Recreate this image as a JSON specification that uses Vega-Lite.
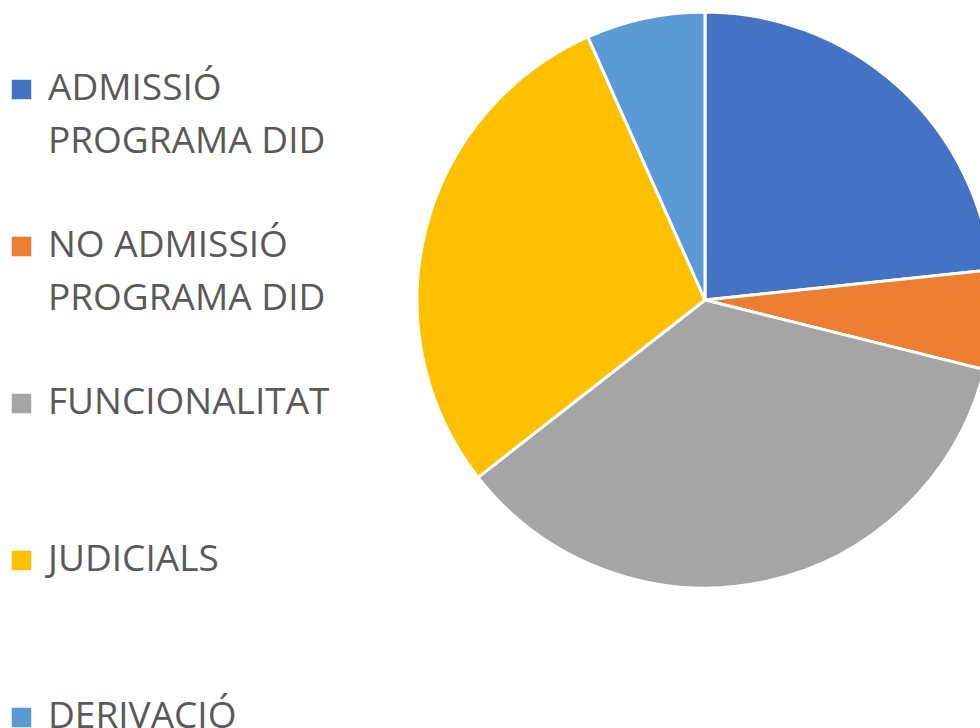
{
  "$schema": "https://vega.github.io/schema/vega-lite/v6.json",
  "autosize": {"type": "none"},
  "padding": {"left": 430, "top": 0, "right": 0, "bottom": 128},
  "width": 550,
  "height": 600,
  "background": "white",
  "data": {"values": [
    {"categoria": "ADMISSIÓ PROGRAMA DID", "valor": 21, "ordre": 1},
    {"categoria": "NO ADMISSIÓ PROGRAMA DID", "valor": 5, "ordre": 2},
    {"categoria": "FUNCIONALITAT", "valor": 32, "ordre": 3},
    {"categoria": "JUDICIALS", "valor": 26, "ordre": 4},
    {"categoria": "DERIVACIÓ", "valor": 6, "ordre": 5}
  ]},
  "mark": {"type": "arc", "radius": 288, "stroke": "white", "strokeWidth": 3},
  "encoding": {
    "theta": {"field": "valor", "type": "quantitative", "stack": true},
    "order": {"field": "ordre", "type": "quantitative"},
    "color": {
      "field": "categoria",
      "type": "nominal",
      "scale": {
        "domain": ["ADMISSIÓ PROGRAMA DID", "NO ADMISSIÓ PROGRAMA DID", "FUNCIONALITAT", "JUDICIALS", "DERIVACIÓ"],
        "range": ["#4472C4", "#ED7D31", "#A5A5A5", "#FFC000", "#5B9BD5"]
      },
      "legend": {
        "title": null,
        "orient": "none",
        "legendX": -427,
        "legendY": 71,
        "padding": 0,
        "symbolType": "square",
        "symbolSize": 380,
        "symbolStrokeWidth": 0,
        "labelFont": "Open Sans",
        "labelFontSize": 37,
        "labelColor": "#595959",
        "labelLimit": 600,
        "labelOffset": 8,
        "rowPadding": 66,
        "labelBaseline": "alphabetic",
        "labelExpr": "indexof(datum.label, 'PROGRAMA DID') > 0 ? [replace(datum.label, ' PROGRAMA DID', ''), 'PROGRAMA DID'] : [datum.label, ' ']"
      }
    }
  },
  "config": {
    "view": {"stroke": null},
    "style": {"guide-label": {"lineHeight": 53, "dy": 10}}
  }
}
